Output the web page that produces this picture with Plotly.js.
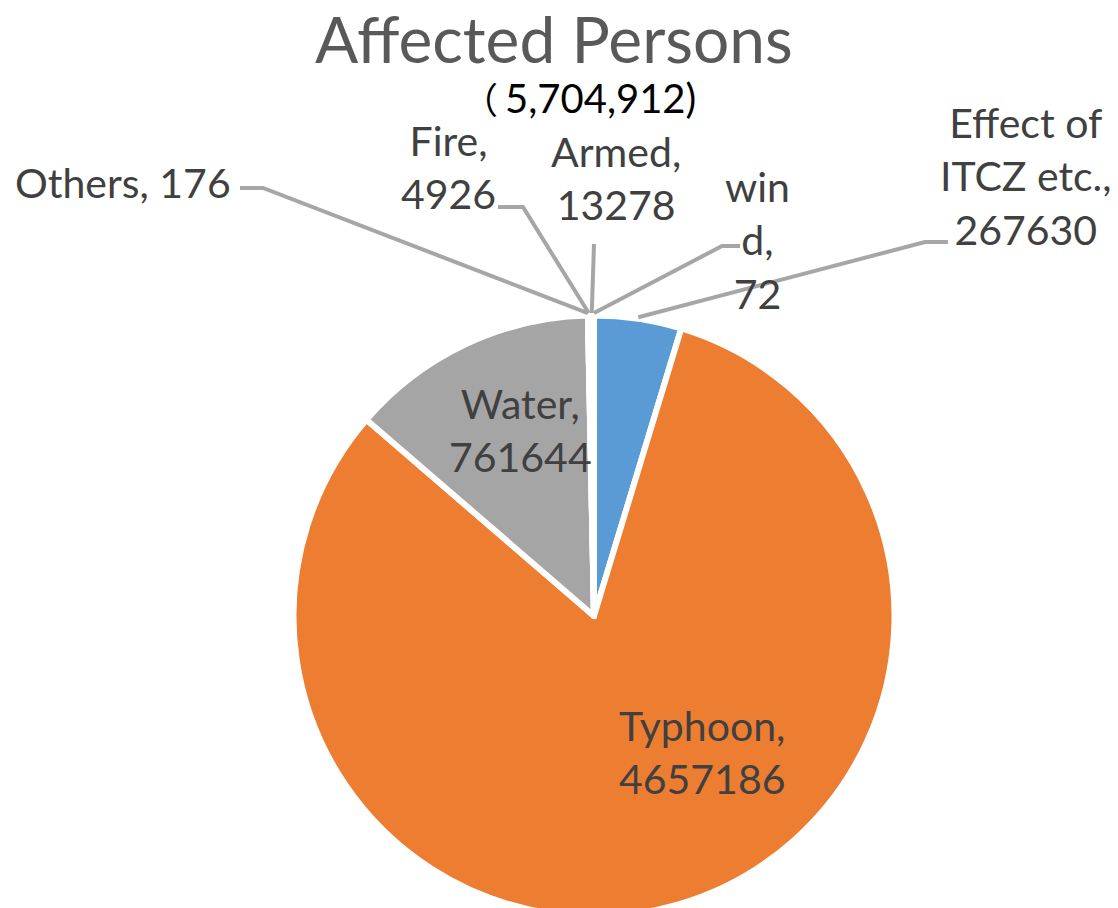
<!DOCTYPE html>
<html><head><meta charset="utf-8">
<script src="https://cdn.plot.ly/plotly-3.0.1.min.js"></script>
<style>html,body{margin:0;padding:0;overflow:hidden;background:#fff}#chart{width:1118px;height:918px}</style>
</head><body><div id="chart"></div>
<script>
const categories = ["Effect of ITCZ etc.", "Typhoon", "Water", "Others", "Fire", "Armed", "wind"];
const values = [267630, 4657186, 761644, 176, 4926, 13278, 72];
const colors = ["#5B9BD5", "#ED7D31", "#A5A5A5", "#FFC000", "#4472C4", "#70AD47", "#264478"];
const titleText = "Affected Persons";
const subtitleParen = "（";
const subtitleText = "5,704,912)";

const W = 1118, H = 918;
const cx = 594, cy = 616, R = 300.5;
const px = x => x / W;
const py = y => 1 - y / H;

const total = values.reduce((a, b) => a + b, 0);
// midpoint angle (clockwise from top) of each slice, from data
const mids = [];
let cum = 0;
values.forEach(v => { mids.push((cum + v / 2) / total * 2 * Math.PI); cum += v; });
const anchor = (i, rr) => [cx + rr * Math.sin(mids[i]), cy - rr * Math.cos(mids[i])];

const labelFont = {family: "Lato, 'Open Sans', sans-serif", size: 41, color: "#404040"};

// label layout: text, position, and leader elbow/end (layout only)
const labelSpec = [
  {i: 0, text: "Effect of<br>ITCZ etc.,<br>" + values[0], x: 1026, y: 176, leader: [[948, 242], [925, 242]], r: 302},
  {i: 1, text: "Typhoon,<br>" + values[1], x: 702, y: 752},
  {i: 2, text: "Water,<br>" + values[2], x: 520, y: 430},
  {i: 3, text: "Others, " + values[3], x: 123, y: 183, leader: [[240, 188], [263, 188]], r: 303},
  {i: 4, text: "Fire,<br>" + values[4], x: 448, y: 167, leader: [[498, 207], [523, 207]], r: 303},
  {i: 5, text: "Armed,<br>" + values[5], x: 616, y: 178, leader: [[594, 244]], r: 303},
  {i: 6, text: "win<br>d,<br>" + values[6], x: 757, y: 240, leader: [[740, 246], [722, 246]], r: 303}
];

const annotations = [
  {text: titleText, xref: "paper", yref: "paper", x: px(554), y: py(38), xanchor: "center", yanchor: "middle",
   showarrow: false, font: {family: "Lato, 'Open Sans', sans-serif", size: 64, color: "#595959"}},
  {text: subtitleParen, xref: "paper", yref: "paper", x: px(500), y: py(98), xanchor: "right", yanchor: "middle",
   showarrow: false, font: {family: "'Noto Sans CJK JP', sans-serif", size: 36, color: "#000000"}},
  {text: subtitleText, xref: "paper", yref: "paper", x: px(503), y: py(98), xanchor: "left", yanchor: "middle",
   showarrow: false, font: {family: "Lato, sans-serif", size: 40, color: "#000000"}}
];
const shapes = [];
labelSpec.forEach(s => {
  annotations.push({text: s.text, xref: "paper", yref: "paper", x: px(s.x), y: py(s.y), xanchor: "center", yanchor: "middle",
    showarrow: false, align: "center", font: labelFont});
  if (s.leader) {
    const a = anchor(s.i, s.r);
    const pts = s.leader.concat([a]);
    let d = "M " + px(pts[0][0]) + "," + py(pts[0][1]);
    for (let k = 1; k < pts.length; k++) d += " L " + px(pts[k][0]) + "," + py(pts[k][1]);
    shapes.push({type: "path", xref: "paper", yref: "paper", path: d, line: {color: "#A6A6A6", width: 4}});
  }
});

const trace = {
  type: "pie", labels: categories, values: values, sort: false, direction: "clockwise", rotation: 0,
  marker: {colors: colors, line: {color: "#FFFFFF", width: 6}},
  textinfo: "none", hoverinfo: "label+value", showlegend: false,
  domain: {x: [px(cx - R), px(cx + R)], y: [py(cy + R), py(cy - R)]}
};

Plotly.newPlot("chart", [trace], {
  width: W, height: H, margin: {l: 0, r: 0, t: 0, b: 0}, paper_bgcolor: "#fff", plot_bgcolor: "#fff",
  showlegend: false, annotations: annotations, shapes: shapes
}, {displayModeBar: false, staticPlot: true});
</script></body></html>
